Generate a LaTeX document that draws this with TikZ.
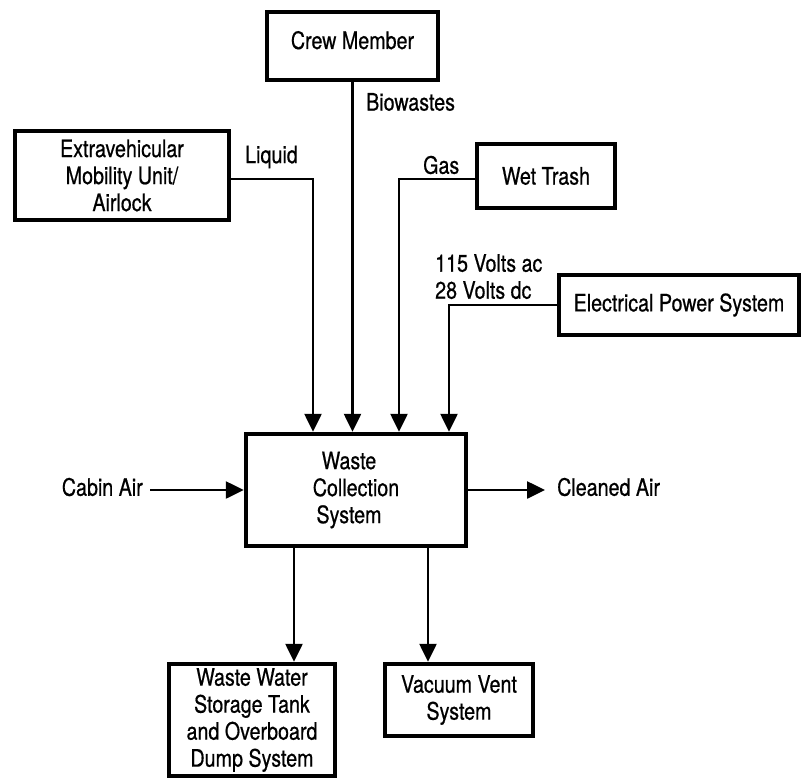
\documentclass[tikz,border=0pt]{standalone}
\usepackage{fontspec}
\setmainfont[FakeStretch=0.82,FakeBold=0.6]{TeX Gyre Heros}
\usetikzlibrary{arrows.meta}
\begin{document}
\begin{tikzpicture}[x=1pt,y=-1pt,
  box/.style={draw, line width=4.5pt, align=center, inner sep=0pt, font=\fontsize{24}{27}\selectfont},
  lbl/.style={inner sep=0pt, font=\fontsize{24}{27}\selectfont},
  arr/.style={line width=2.6pt, -{Triangle[length=18pt,width=17pt]}}]
\useasboundingbox (0,0) rectangle (804,782);

\node[box, minimum width=171pt, minimum height=68pt] (crew) at (352.5,46) {Crew Member\\[-15pt]};
\node[box, minimum width=214pt, minimum height=89pt] (emu) at (122,175.5) {Extravehicular\\Mobility Unit/\\Airlock};
\node[box, minimum width=138pt, minimum height=64pt] (wet) at (546,176) {Wet Trash};
\node[box, minimum width=240pt, minimum height=60pt] (eps) at (679,305) {Electrical Power System};
\node[box, minimum width=220pt, minimum height=112pt] (wcs) at (356,490) {Waste\hspace*{14pt}\\Collection\hspace*{14pt}\\System\hspace*{14pt}};
\node[box, minimum width=166pt, minimum height=112pt] (ww) at (252,720) {Waste Water\\Storage Tank\\and Overboard\\Dump System};
\node[box, minimum width=148pt, minimum height=72pt] (vv) at (459,700) {Vacuum Vent\\System};

\draw[arr] ([yshift=-3.5pt]emu.east) -| ([xshift=-43pt]wcs.north);
\draw[arr] (crew.south) -- (crew.south |- wcs.north);
\draw[arr] ([yshift=-3pt]wet.west) -| ([xshift=43pt]wcs.north);
\draw[arr] (eps.west) -| ([xshift=93pt]wcs.north);

\node[lbl, anchor=east] (cabin) at (143,487) {Cabin Air};
\coordinate (ca) at ([xshift=7pt]cabin.east);
\draw[arr] (ca |- wcs.west) -- (wcs.west);

\node[lbl, anchor=west] (clean) at (557,487) {Cleaned Air};
\coordinate (cl) at ([xshift=-12pt]clean.west);
\draw[arr] (wcs.east) -- (cl |- wcs.east);

\coordinate (b1) at ([xshift=-62pt]wcs.south);
\draw[arr] (b1) -- (b1 |- ww.north);
\coordinate (b2) at ([xshift=72pt]wcs.south);
\draw[arr] (b2) -- (b2 |- vv.north);

\node[lbl, anchor=west] (bio) at (366,102) {Biowastes};
\node[lbl, anchor=west] (liq) at (245,157) {Liquid};
\node[lbl, anchor=west] (gas) at (423,165) {Gas};
\node[lbl, anchor=north west, align=left] (volts) at (435,254) {115 Volts ac\\28 Volts dc};
\end{tikzpicture}
\end{document}
